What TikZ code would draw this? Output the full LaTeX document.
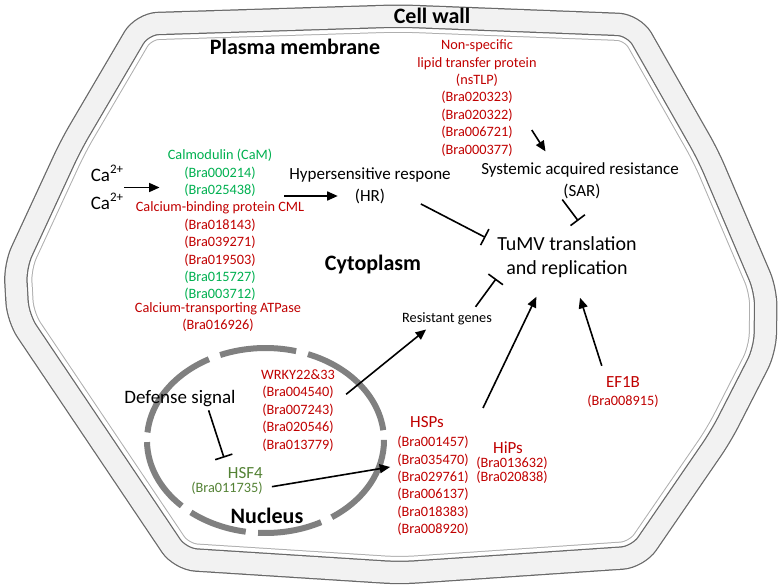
\documentclass[tikz,border=0pt]{standalone}
\usepackage{fontspec}
\setmainfont{Carlito}
\usetikzlibrary{arrows.meta,calc}

\definecolor{genered}{RGB}{192,0,0}
\definecolor{camgreen}{RGB}{0,176,80}
\definecolor{hsfgreen}{RGB}{84,130,53}
\definecolor{wallfill}{RGB}{242,242,242}
\definecolor{wallline}{RGB}{105,105,105}
\definecolor{membrane}{RGB}{175,175,175}
\definecolor{nucgray}{RGB}{128,128,128}

\newcommand{\cellpath}{(400,16) -- (634,25) -- (708,155) -- (766,291) -- (765,350)
  -- (721,436) -- (638,557) -- (400,573) -- (180,559) -- (18,318) -- (15,266)
  -- (71,145) -- (142,24) -- cycle}

\begin{document}
\begin{tikzpicture}[x=1pt,y=-1pt,>={Triangle[length=10.5pt,width=9pt]},
    gene/.style={font=\fontsize{14.3}{17.4}\selectfont,text=genered,align=center,inner sep=1pt},
    term/.style={font=\fontsize{17}{22}\selectfont,align=center,inner sep=1pt},
    region/.style={font=\bfseries\fontsize{22}{26}\selectfont,inner sep=1pt},
    cell/.style={rounded corners=16pt},
    nucring/.style={line width=6pt,nucgray},
    act/.style={->,line width=1.6pt},
    inh/.style={-{Bar[width=18pt]},line width=1.6pt}]
  \useasboundingbox (0,0) rectangle (780,588);

  \begin{scope}
    \clip[cell] \cellpath;
    \draw[cell,line width=33pt,membrane] \cellpath;
    \draw[cell,line width=31pt,white] \cellpath;
  \end{scope}
  \draw[cell,line width=23.5pt,wallline] \cellpath;
  \draw[cell,line width=21pt,wallfill] \cellpath;

  \foreach \a/\b in {129/99.6,93.6/62,56/-0.4,-6.4/-69,-75/-112.5,-118.5/-175,-181/-225}
    \draw[nucring] (265.5,440.5) ++(\a:118.5 and 92.5)
      arc[start angle=\a,end angle=\b,x radius=118.5,y radius=92.5];

  \node[region] (wall) at (432,16) {Cell wall};
  \node[region] (pm) at (295,47) {Plasma membrane};
  \node[region] (cyto) at (373,264.5) {Cytoplasm};
  \node[region] (nuc) at (267,516) {Nucleus};

  \node[term,font=\fontsize{19}{22}\selectfont] (ca1) at (107,173.5)
    {Ca\raisebox{0.4em}{\fontsize{13}{13}\selectfont 2+}};
  \node[term,font=\fontsize{19}{22}\selectfont] (ca2) at (107,201.5)
    {Ca\raisebox{0.4em}{\fontsize{13}{13}\selectfont 2+}};
  \node[gene,text=camgreen] (cam) at (220,173) {Calmodulin (CaM)\\(Bra000214)\\(Bra025438)};
  \node[gene] (cml) at (220,251.5) {Calcium-binding protein CML\\(Bra018143)\\(Bra039271)\\(Bra019503)\\
    \textcolor{camgreen}{(Bra015727)}\\\textcolor{camgreen}{(Bra003712)}};
  \node[gene] (atp) at (218,317) {Calcium-transporting ATPase\\(Bra016926)};

  \node[term] (hr) at (370,175) {Hypersensitive respone};
  \node[term] (hrab) at (370,196) {(HR)};
  \node[gene] (nstlp) at (477,98) {Non-specific\\lipid transfer protein\\(nsTLP)\\(Bra020323)\\(Bra020322)\\(Bra006721)\\(Bra000377)};
  \node[term] (sar) at (580,170) {Systemic acquired resistance};
  \node[term] (sarab) at (582,191) {(SAR)};
  \node[term,font=\fontsize{20}{24}\selectfont] (tumv) at (567,257) {TuMV translation\\and replication};
  \node[gene,text=black] (rgenes) at (447,319) {Resistant genes};

  \node[term] (ef1b) at (623,382) {\textcolor{genered}{EF1B}};
  \node[gene] (ef1bid) at (623,401) {(Bra008915)};
  \node[term,text=genered] (hsps) at (427,422) {HSPs};
  \node[gene] (hspsid) at (433,486) {(Bra001457)\\(Bra035470)\\(Bra029761)\\(Bra006137)\\(Bra018383)\\(Bra008920)};
  \node[term,text=genered] (hips) at (508,448) {HiPs};
  \node[gene,font=\fontsize{14.3}{14}\selectfont] (hipsid) at (512,470.5) {(Bra013632)\\(Bra020838)};
  \coordinate (hsptail) at (483,408);

  \node[term,font=\fontsize{19}{22}\selectfont] (defense) at (180,399) {Defense signal};
  \node[gene] (wrky) at (298,410.5) {WRKY22\&33\\(Bra004540)\\(Bra007243)\\(Bra020546)\\(Bra013779)};
  \node[term,text=hsfgreen,anchor=east] (hsf) at (264,473) {HSF4};
  \node[gene,text=hsfgreen,anchor=east] (hsfid) at (264,488) {(Bra011735)};

  \coordinate (ca) at ($(ca1.east)!.5!(ca2.east)$);
  \draw[act,shorten >=7pt] (ca) -- (ca -| cam.west);
  \draw[act,shorten <=11pt,shorten >=16pt] (cam.east |- hrab) -- (hrab);
  \draw[inh,shorten <=39pt,shorten >=12pt] ([yshift=10pt]hrab.east) -- ([yshift=14pt]tumv.west);
  \draw[inh,shorten >=18pt] (sarab.south west) -- ([xshift=22pt]tumv.north);
  \draw[act,shorten >=12pt] ([xshift=-6pt,yshift=-32pt]nstlp.east) -- ([xshift=-28pt]sar.north);
  \draw[inh,shorten <=6pt] ([xshift=25pt]rgenes.north) -- (tumv.south west);
  \draw[act,shorten <=13pt,shorten >=5pt] ([yshift=8pt]wrky.east) -- ([xshift=-17pt]rgenes.south);
  \draw[act,shorten >=20pt] (hsptail) -- ([xshift=-22pt]tumv.south);
  \draw[act,shorten <=10pt,shorten >=20pt] (ef1b.north west) -- (tumv);
  \draw[inh,shorten <=2pt,shorten >=9pt] ([xshift=28pt]defense.south) -- (hsf.north west);
  \draw[act,shorten <=8pt,shorten >=6pt] (hsfid.east) -- ([yshift=20pt]hspsid.west);
\end{tikzpicture}
\end{document}
